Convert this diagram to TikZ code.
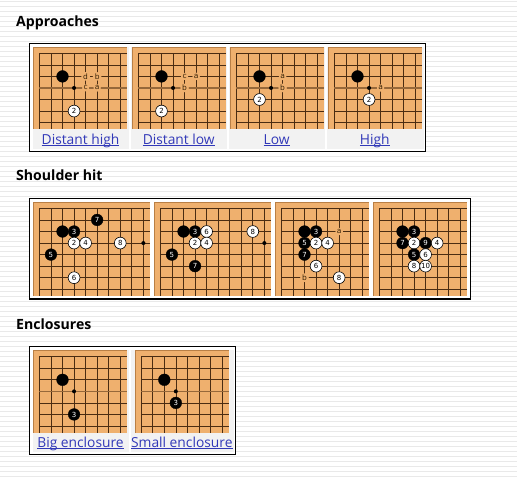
\documentclass[tikz,border=0pt]{standalone}
\usepackage{fontspec}
\setmainfont{Open Sans}
\newfontfamily\stonefont{DejaVu Sans}
\definecolor{boardc}{HTML}{EFB06E}
\definecolor{boardedge}{HTML}{B97F45}
\definecolor{gridc}{HTML}{4A2C12}
\definecolor{starline}{HTML}{96683A}
\definecolor{stripec}{HTML}{E9E9E9}
\definecolor{capbg}{HTML}{F2F2F2}
\definecolor{linkc}{HTML}{3138B8}
\definecolor{mark}{HTML}{3A2408}
\newcount\itemno
\newcommand{\lnk}[1]{\setbox0\hbox{#1}\leavevmode\rlap{\rule[-1.5pt]{\wd0}{0.9pt}}\box0}
\tikzset{
  x=1pt,y=-1pt,
  stonebase/.style={circle,inner sep=0pt,minimum size=11.8pt,font=\stonefont\fontsize{7}{7}\selectfont},
  blackstone/.style={stonebase,fill=black,draw=black,line width=0.3pt,text=white},
  whitestone/.style={stonebase,fill=white,draw=black,line width=0.6pt,text=black},
  lettermark/.style={stonebase,minimum size=0pt,circle,fill=boardc,inner sep=0.4pt,text=black,font=\stonefont\fontsize{7.5}{8}\selectfont},
  hoshi/.style={circle,fill=black,inner sep=0pt,minimum size=4pt},
  frame/.style={draw=black,fill=white,line width=1.2pt},
  capcell/.style={fill=capbg},
  caption/.style={anchor=base,inner sep=0pt,text=linkc,font=\fontsize{13.8}{16}\selectfont},
  heading/.style={anchor=base west,inner sep=0pt,text=black,font=\bfseries\fontsize{14.1}{16}\selectfont},
  gridline/.style={draw=gridc,line width=0.65pt},
  starrow/.style={draw=starline,line width=1.4pt},
}
% lineX lineY ncols nrows W H star-row-flag
\newcommand{\goboard}[7]{%
  \gdef\gx{#1}\gdef\gy{#2}%
  \fill[boardc] ({#1-6.2},{#2-6.2}) rectangle ++(#5,#6);
  \draw[boardedge,line width=0.9pt] ({#1-6.2},{#2-6.2+#6}) -- ({#1-6.2},{#2-6.2}) -- ({#1-6.2+#5},{#2-6.2});
  \foreach \c in {0,...,#3} \draw[gridline] ({#1+\c*11.55},#2) -- ({#1+\c*11.55},{#2-6.2+#6});
  \foreach \r in {0,...,#4} \draw[gridline] (#1,{#2+\r*11.55}) -- ({#1-6.2+#5},{#2+\r*11.55});
  \ifnum#7=1 \draw[starrow] (#1,{#2+3*11.55}) -- ({#1-6.2+#5},{#2+3*11.55});\fi
}
\newcommand{\stp}{\global\advance\itemno by 1\relax}
\newcommand{\bs}[3]{\stp\node[blackstone] (it\the\itemno) at ({\gx+#1*11.55},{\gy+#2*11.55}) {#3};}
\newcommand{\ws}[3]{\stp\node[whitestone] (it\the\itemno) at ({\gx+#1*11.55},{\gy+#2*11.55}) {#3};}
\newcommand{\lm}[3]{\stp\node[lettermark] (it\the\itemno) at ({\gx+#1*11.55},{\gy+#2*11.55}) {\textcolor{mark}{#3}};}
\newcommand{\hs}[2]{\stp\node[hoshi] (it\the\itemno) at ({\gx+#1*11.55},{\gy+#2*11.55}) {};}
\begin{document}
\begin{tikzpicture}
\useasboundingbox (0,0) rectangle (517,479);
\fill[white] (0,0) rectangle (517,479);
\foreach \s in {0,...,95} \fill[stripec] (0,{1+\s*5}) rectangle (517,{2+\s*5});

\node[heading] (h1) at (16,26) {Approaches};
\node[heading] (h2) at (16,180.5) {Shoulder hit};
\node[heading] (h3) at (16,329) {Enclosures};

% --- Approaches
\draw[frame] (29.3,43.3) rectangle (425.7,151.3);
\fill[capcell] (33,47) rectangle (129,149);
\fill[capcell] (131.3,47) rectangle (227.3,149);
\fill[capcell] (229.3,47) rectangle (325.3,149);
\fill[capcell] (327.3,47) rectangle (424,149);
\goboard{39.4}{53.3}{7}{6}{93.8}{82}{1}
\hs{3}{3}\bs{2}{2}{}\ws{3}{5}{2}
\lm{4}{2}{d}\lm{5}{2}{b}\lm{4}{3}{c}\lm{5}{3}{a}
\goboard{138.4}{53.3}{7}{6}{93.8}{82}{1}
\hs{3}{3}\bs{2}{2}{}\ws{2}{5}{2}
\lm{4}{2}{c}\lm{5}{2}{a}\lm{4}{3}{b}
\goboard{236.4}{53.3}{7}{6}{93.8}{82}{1}
\hs{3}{3}\bs{2}{2}{}\ws{2}{4}{2}
\lm{4}{2}{a}\lm{4}{3}{b}
\goboard{334.4}{53.3}{7}{6}{93.8}{82}{1}
\hs{3}{3}\bs{2}{2}{}\ws{3}{4}{2}
\lm{4}{3}{a}
\node[caption] (c1) at (80.5,144) {\lnk{Distant high}};
\node[caption] (c2) at (178.7,144) {\lnk{Distant low}};
\node[caption] (c3) at (276.7,144) {\lnk{Low}};
\node[caption] (c4) at (374.7,144) {\lnk{High}};

% --- Shoulder hit
\draw[frame] (29.3,198.3) rectangle (470.7,299);
\goboard{39.4}{208.4}{9}{7}{116.6}{93.6}{0}
\hs{9}{3}\bs{2}{2}{}\bs{3}{2}{3}\ws{3}{3}{2}\ws{4}{3}{4}\bs{5}{1}{7}\ws{7}{3}{8}\bs{1}{4}{5}\ws{3}{6}{6}
\goboard{160.4}{208.4}{9}{7}{116.6}{93.6}{0}
\hs{9}{3}\bs{2}{2}{}\bs{3}{2}{3}\ws{4}{2}{6}\ws{3}{3}{2}\ws{4}{3}{4}\ws{8}{2}{8}\bs{1}{4}{5}\bs{3}{5}{7}
\goboard{281.4}{208.4}{7}{7}{93.8}{93.6}{0}
\bs{2}{2}{}\bs{3}{2}{3}\bs{2}{3}{5}\ws{3}{3}{2}\ws{4}{3}{4}\bs{2}{4}{7}\ws{3}{5}{6}\ws{5}{6}{8}\lm{5}{2}{a}\lm{2}{6}{b}
\goboard{379.4}{208.4}{7}{7}{93.8}{93.6}{0}
\bs{2}{2}{}\bs{3}{2}{3}\bs{2}{3}{7}\ws{3}{3}{2}\bs{4}{3}{9}\ws{5}{3}{4}\bs{3}{4}{5}\ws{4}{4}{6}\ws{3}{5}{8}\ws{4}{5}{10}

% --- Enclosures
\draw[frame] (29.3,346.3) rectangle (235.7,454.3);
\fill[capcell] (33,350) rectangle (129,452);
\fill[capcell] (131,350) rectangle (233.5,452);
\goboard{39.4}{356.7}{7}{6}{93.8}{82}{1}
\hs{3}{3}\bs{2}{2}{}\bs{3}{5}{3}
\goboard{141.2}{356.7}{7}{6}{93.8}{82}{1}
\hs{3}{3}\bs{2}{2}{}\bs{3}{4}{3}
\node[caption] (c5) at (80.5,447.3) {\lnk{Big enclosure}};
\node[caption] (c6) at (181.8,447.3) {\lnk{Small enclosure}};
\end{tikzpicture}
\end{document}
